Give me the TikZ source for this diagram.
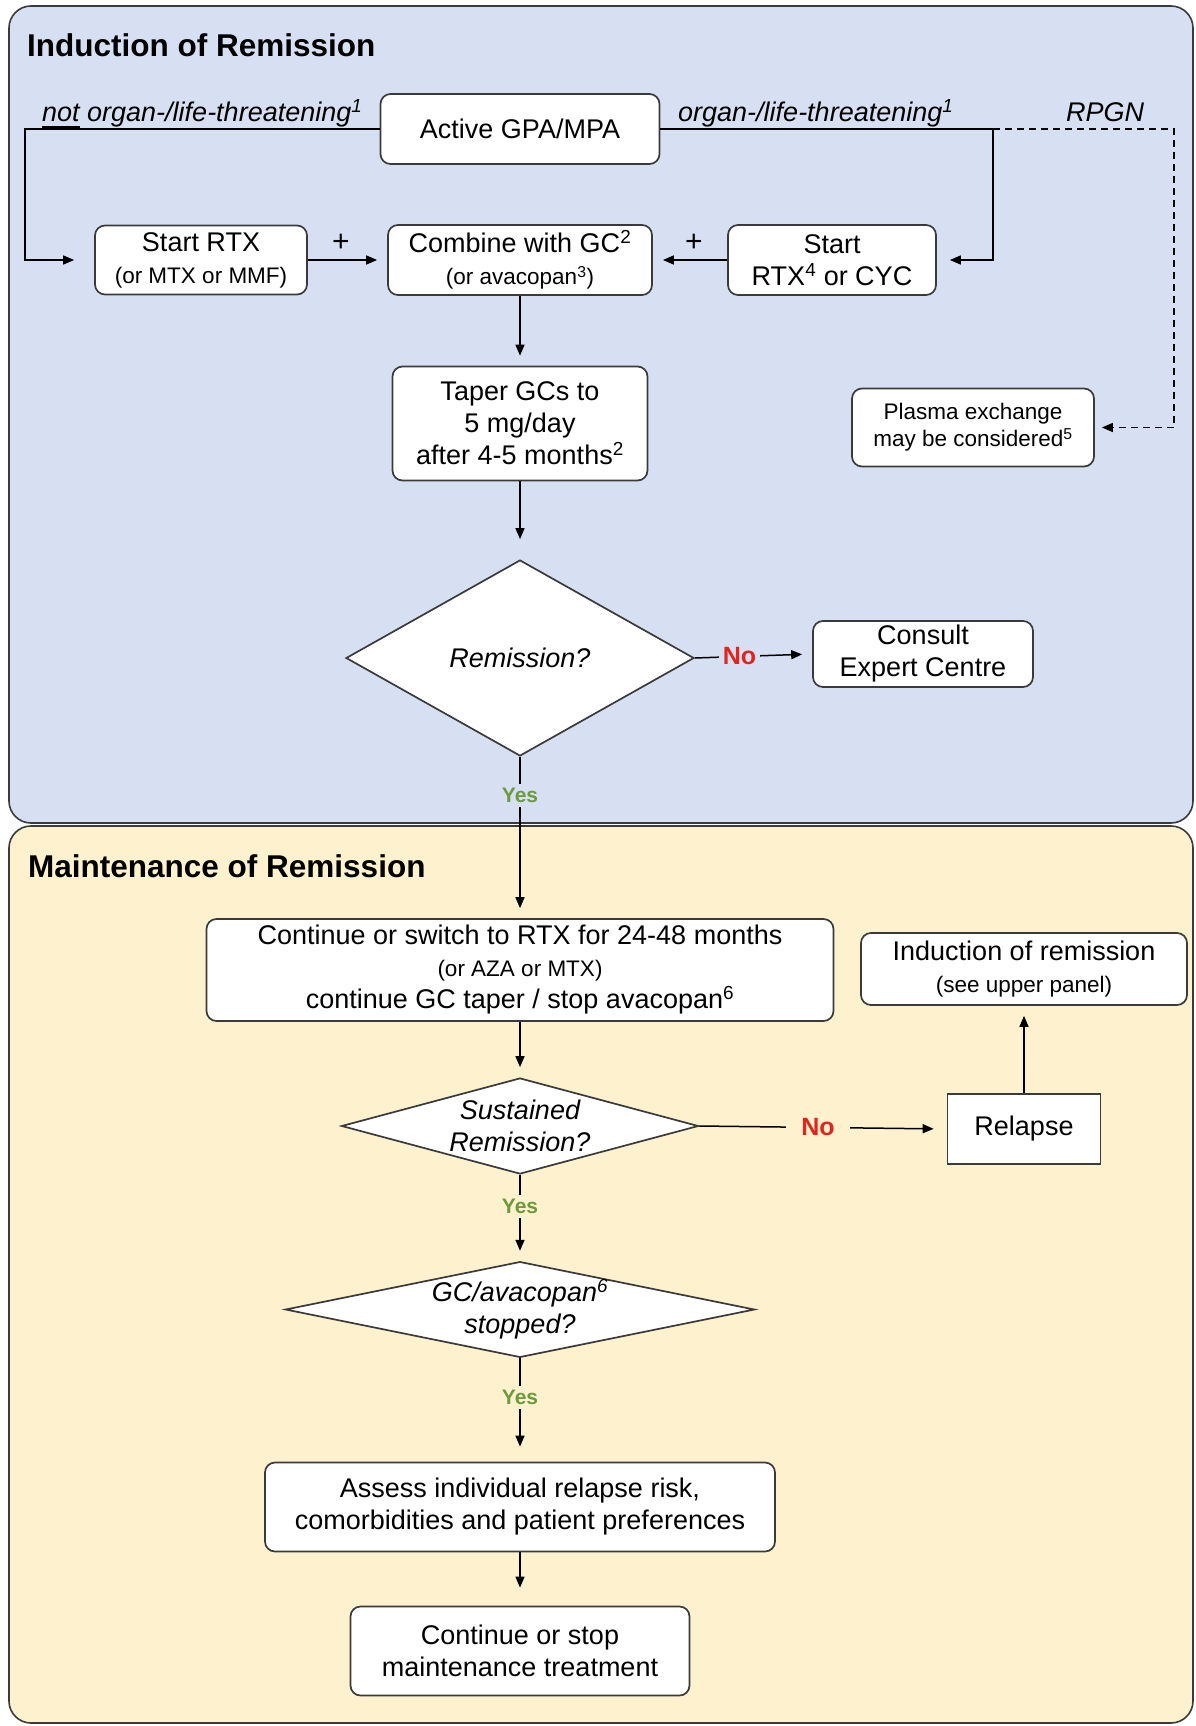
\documentclass[tikz,border=0pt]{standalone}
\usepackage{fontspec}
\setmainfont{Liberation Sans}
\usetikzlibrary{shapes.geometric,arrows.meta}
\definecolor{panelblue}{HTML}{D7E0F2}
\definecolor{panelyellow}{HTML}{FEF1CD}
\definecolor{edgegray}{HTML}{3A3A3A}
\definecolor{nored}{HTML}{E3241E}
\definecolor{yesgreen}{HTML}{6C9A3C}
\newcommand\mainsz{\fontsize{27}{32}\selectfont}
\newcommand\smallsz{\fontsize{22.5}{27}\selectfont}
\newcommand\thickul[1]{\setbox0\hbox{#1}\rlap{\rule[-7pt]{\wd0}{3pt}}\box0\relax}
\begin{document}
\begin{tikzpicture}[x=1pt,y=-1pt,
  box/.style={draw=edgegray, fill=white, line width=1.7pt, rounded corners=10pt, align=center, inner sep=0pt, font=\mainsz},
  sqbox/.style={box, rounded corners=0pt},
  dia/.style={diamond, draw=edgegray, fill=white, line width=1.7pt, align=center, inner sep=0pt, font=\mainsz\itshape},
  conn/.style={draw=black, line width=1.5pt, -{Triangle[length=11pt,width=9pt]}, shorten >=10pt},
  lab/.style={font=\mainsz\itshape, inner sep=0pt, anchor=base west},
  nolab/.style={font=\fontsize{25}{25}\selectfont\bfseries, text=nored, inner sep=4pt},
  yeslab/.style={font=\fontsize{21}{21}\selectfont\bfseries, text=yesgreen, inner sep=4pt},
  title/.style={font=\fontsize{31.5}{31.5}\selectfont\bfseries, inner sep=0pt, anchor=base west},
  plus/.style={font=\fontsize{30}{30}\selectfont, inner sep=0pt},
  panel/.style={draw=edgegray, line width=1.6pt, rounded corners=22pt}
]
\useasboundingbox (0,0) rectangle (1195,1726);
% panels
\path[panel, fill=panelblue] (9,6) rectangle (1193,823);
\path[panel, fill=panelyellow] (9,826) rectangle (1193,1723);
\node[title] (t1) at (27,57) {Induction of Remission};
\node[title] (t2) at (28,877) {Maintenance of Remission};

% upper panel nodes
\node[box, minimum width=279pt, minimum height=70pt] (active) at (520,129) {Active GPA/MPA};
\node[box, minimum width=212pt, minimum height=69pt] (rtx) at (201,260) {Start RTX\\{\smallsz(or MTX or MMF)}};
\node[box, minimum width=264pt, minimum height=70pt] (comb) at (520,260) {Combine with GC\textsuperscript{2}\\{\smallsz(or avacopan\textsuperscript{3})}};
\node[box, minimum width=208pt, minimum height=70pt] (rtx4) at (832,260) {Start\\RTX\textsuperscript{4} or CYC};
\node[box, minimum width=255pt, minimum height=114pt] (taper) at (520,423.5) {Taper GCs to\\5 mg/day\\after 4-5 months\textsuperscript{2}};
\node[box, font=\smallsz, minimum width=242pt, minimum height=78pt] (plasma) at (973,427.5) {Plasma exchange\\may be considered\textsuperscript{5}};
\node[dia, minimum width=348pt, minimum height=196pt] (remi) at (520,658) {Remission?};
\node[box, minimum width=220pt, minimum height=66pt] (consult) at (923,654) {Consult\\Expert Centre};

\node[lab] (notlab) at (42,121.7) {\thickul{not} organ-/life-threatening\textsuperscript{1}};
\node[lab] (orglab) at (678,121.7) {organ-/life-threatening\textsuperscript{1}};
\node[lab, anchor=base] (rpgn) at (1105,121.7) {RPGN};
\node[plus] (plus1) at (341,243) {+};
\node[plus] (plus2) at (694,243) {+};

% lower panel nodes
\node[box, minimum width=627pt, minimum height=102pt] (cont) at (520,970) {Continue or switch to RTX for 24-48 months\\{\smallsz(or AZA or MTX)}\\continue GC taper / stop avacopan\textsuperscript{6}};
\node[box, minimum width=326pt, minimum height=72pt] (indrem) at (1024,969) {Induction of remission\\{\smallsz(see upper panel)}};
\node[dia, minimum width=357pt, minimum height=96pt, aspect=3.7] (sust) at (520,1126) {Sustained\\Remission?};
\node[sqbox, minimum width=153pt, minimum height=70pt] (relapse) at (1024,1129) {Relapse};
\node[dia, minimum width=467pt, minimum height=95pt, aspect=4.9] (gc) at (520,1309.5) {GC/avacopan\textsuperscript{6}\\stopped?};
\node[box, minimum width=510pt, minimum height=89pt] (assess) at (520,1507) {Assess individual relapse risk,\\comorbidities and patient preferences};
\node[box, minimum width=339pt, minimum height=89pt] (cstop) at (520,1651) {Continue or stop\\maintenance treatment};

% connectors
\coordinate (lx) at (25,0);
\coordinate (rx) at (993,0);
\coordinate (dx) at (1174,0);
\draw[conn, shorten >=20pt] (active.west) -- (active.west -| lx) |- (rtx.west);
\draw[conn, shorten >=13pt] (active.east) -- (active.east -| rx) |- (rtx4.east);
\draw[conn, dash pattern=on 7pt off 5pt, line width=1.3pt, shorten >=7pt] (active.east -| rx) -- (active.east -| dx) |- (plasma.east);
\draw[conn] (rtx.east) -- (comb.west);
\draw[conn] (rtx4.west) -- (comb.east);
\draw[conn] (comb.south) -- (taper.north);
\draw[conn, shorten >=20pt] (taper.south) -- (remi.north);
\draw[conn] (remi.east) -- node[nolab, fill=panelblue, pos=0.38] (no1) {No} (consult.west);
\draw[conn] (remi.south) -- node[yeslab, fill=panelblue, pos=0.24] (yes1) {Yes} (cont.north);
\draw[conn] (cont.south) -- (sust.north);
\draw[conn, shorten >=13pt] (sust.east) -- node[nolab, fill=panelyellow, inner xsep=15pt, pos=0.48] (no2) {No} (relapse.west);
\draw[conn] (relapse.north) -- (relapse.north |- indrem.south);
\draw[conn] (sust.south) -- node[yeslab, fill=panelyellow, pos=0.37] (yes2) {Yes} (gc.north);
\draw[conn, shorten >=15pt] (gc.south) -- node[yeslab, fill=panelyellow, pos=0.38] (yes3) {Yes} (assess.north);
\draw[conn, shorten >=18pt] (assess.south) -- (cstop.north);
\end{tikzpicture}
\end{document}
